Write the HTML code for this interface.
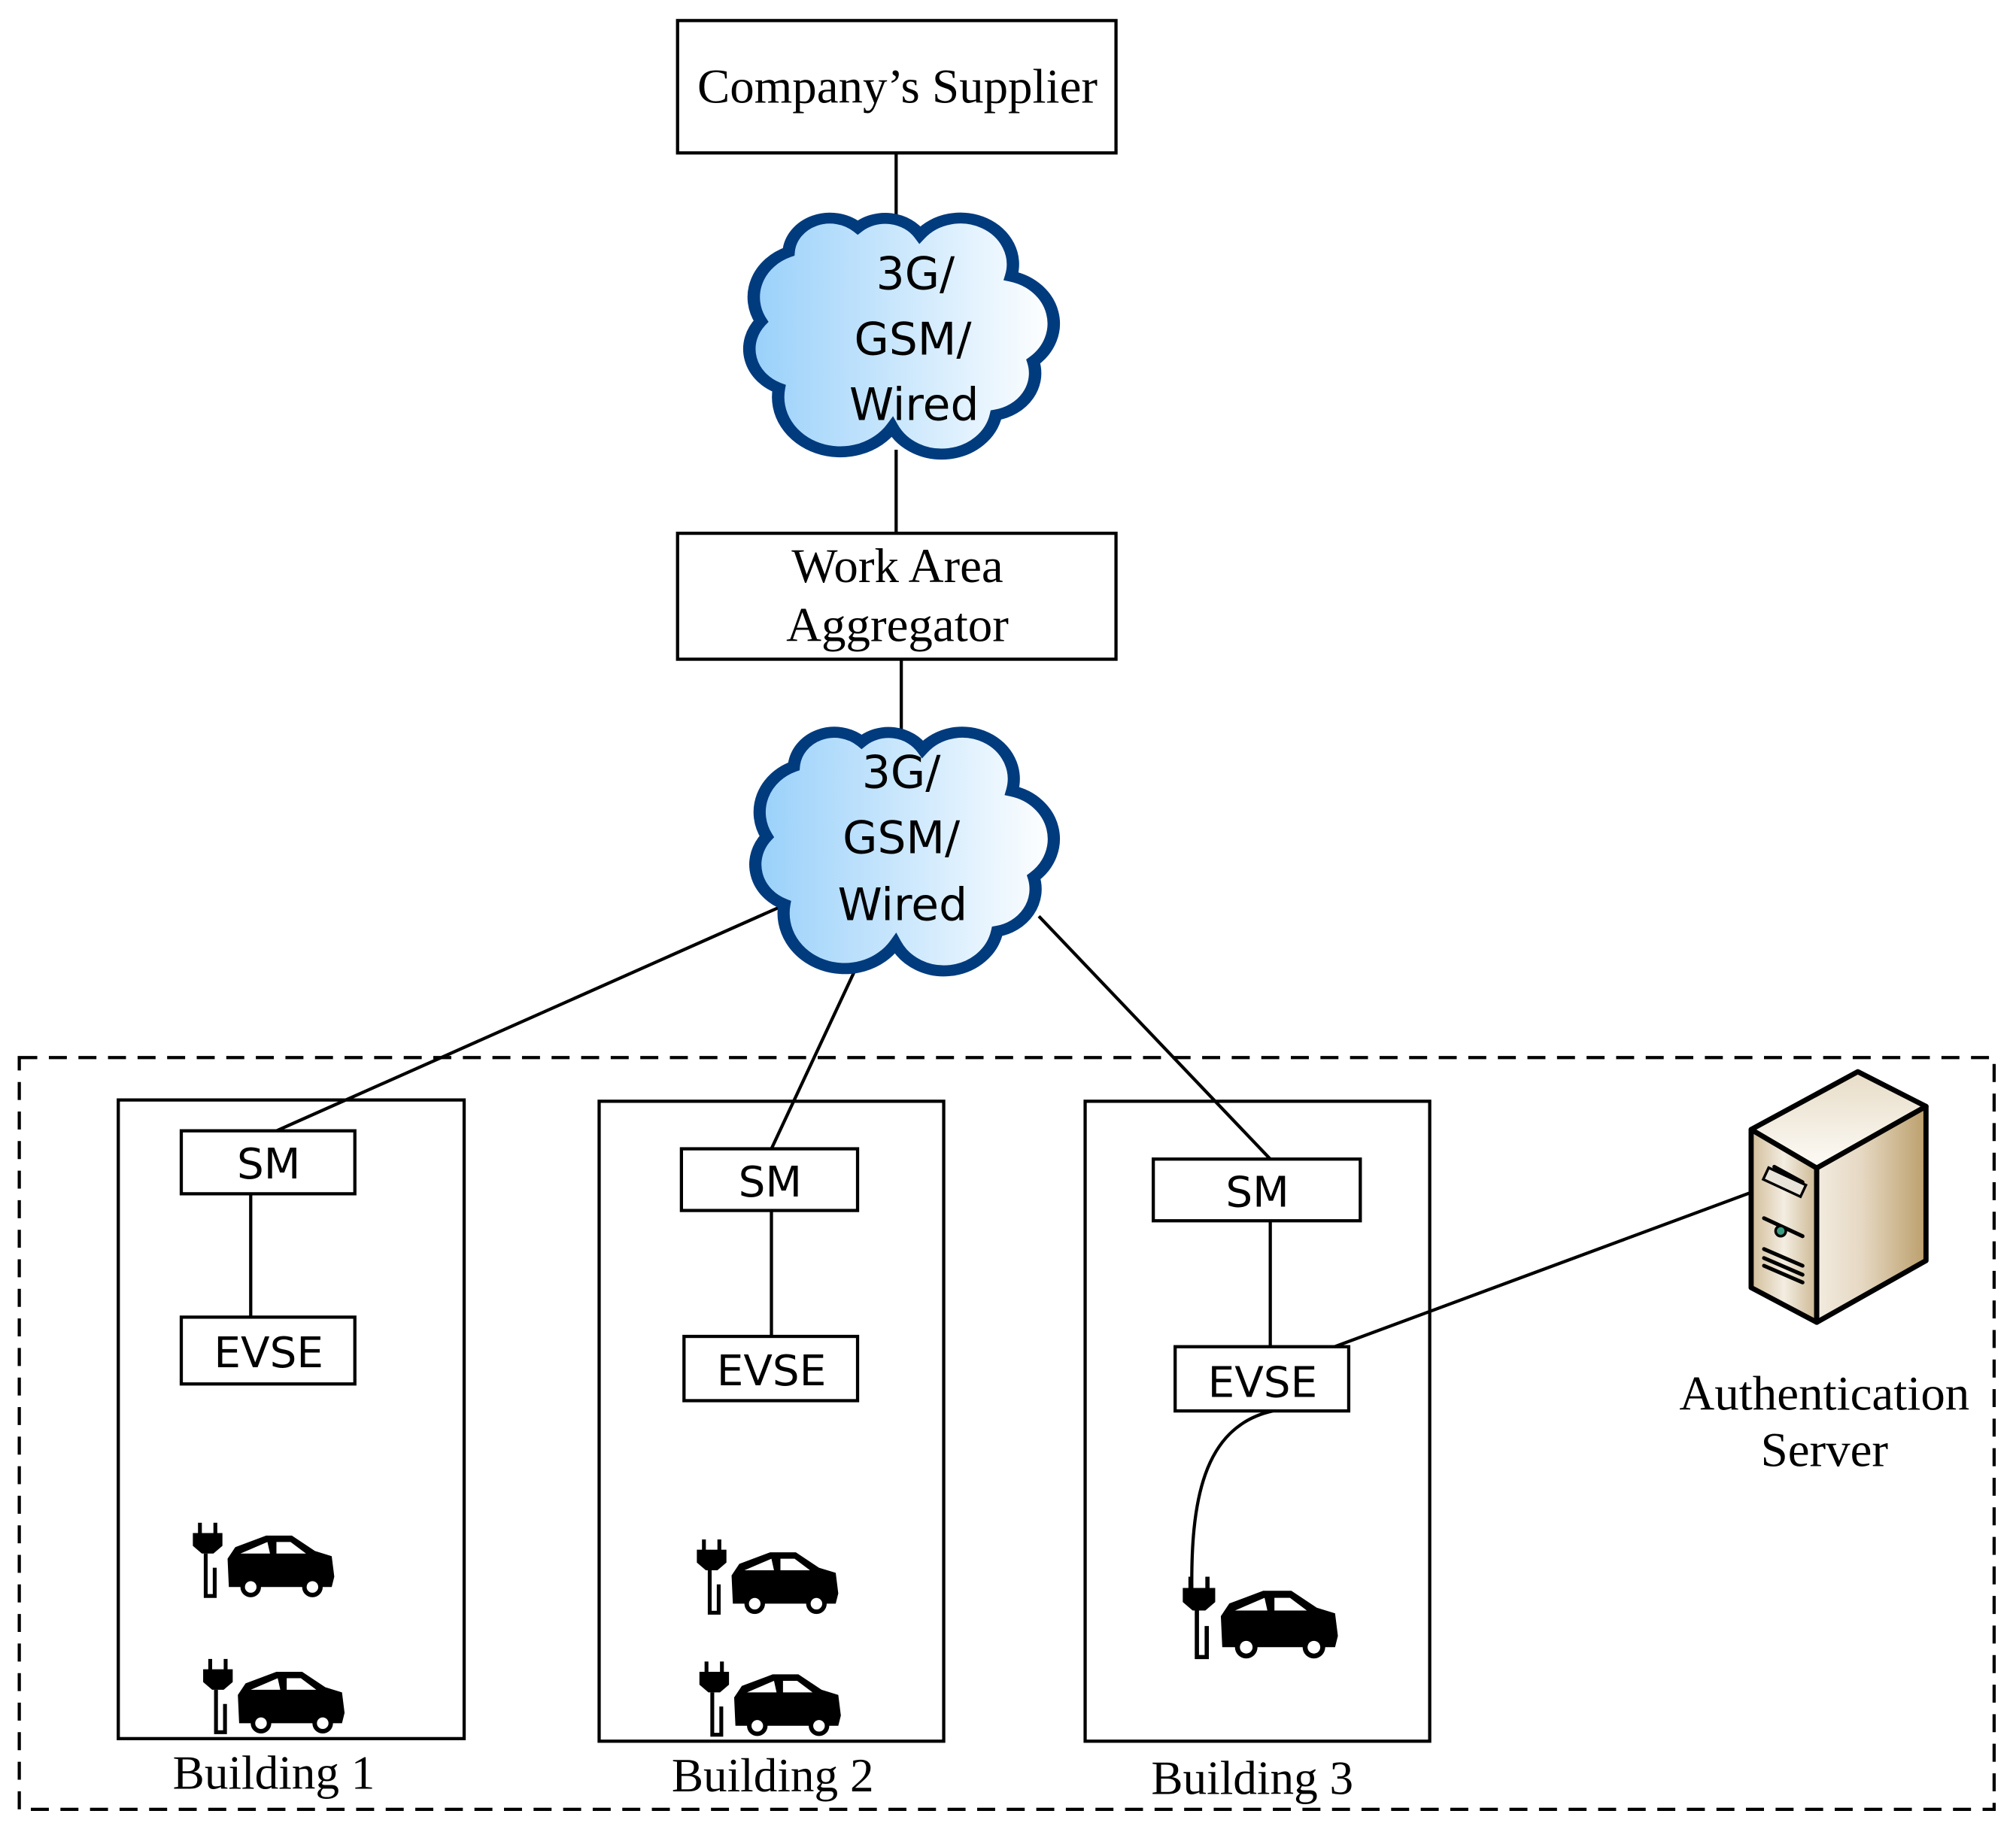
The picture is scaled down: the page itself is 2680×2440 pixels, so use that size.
<!DOCTYPE html>
<html><head><meta charset="utf-8"><style>html,body{margin:0;padding:0;background:#fff}svg{display:block}</style></head>
<body>
<svg width="2680" height="2440" viewBox="0 0 1568 1428" preserveAspectRatio="none" xmlns="http://www.w3.org/2000/svg">
<defs>
<linearGradient id="cg" x1="0" x2="1" y1="0" y2="0"><stop offset="0" stop-color="#98d0fa"/><stop offset="1" stop-color="#ffffff"/></linearGradient>
<linearGradient id="sf" x1="0" x2="1"><stop offset="0" stop-color="#d2bd98"/><stop offset="0.5" stop-color="#f3ede2"/><stop offset="1" stop-color="#cdb892"/></linearGradient>
<linearGradient id="sr" x1="0" x2="1"><stop offset="0" stop-color="#f2ebe0"/><stop offset="0.4" stop-color="#e6d9c4"/><stop offset="1" stop-color="#bc9f6c"/></linearGradient>
<linearGradient id="st" x1="0" x2="0" y1="0" y2="1"><stop offset="0" stop-color="#e7dcc6"/><stop offset="1" stop-color="#fdfbf7"/></linearGradient>
<symbol id="cloud" viewBox="0 0 240 190" overflow="visible" preserveAspectRatio="none">
<path d="M95,18 A30,30 0 0 1 140,24 A38,38 0 0 1 206,58 A40,40 0 0 1 222,128 A35,35 0 0 1 195,172 A40,40 0 0 1 120,182 A45,45 0 0 1 38,150 A35,35 0 0 1 25,95 A40,40 0 0 1 45,38 A30,30 0 0 1 95,18 Z" fill="url(#cg)" stroke="#003b7e" stroke-width="9"/>
</symbol>
<symbol id="car" viewBox="0 0 115 62" overflow="visible">
<rect x="4" y="0" width="3" height="9"/><rect x="16" y="0" width="3" height="9"/>
<path d="M0,8 H23 V18 L16,24 H7 L0,18 Z"/>
<path d="M10,24 V57 H17 V35" fill="none" stroke="#000" stroke-width="3"/>
<path d="M27,28 L33,19 L57,10 L77,10 L95,22 L108,26 L110,42 L108,50 L28,50 Z"/>
<path d="M37,24 L58,15 L60,24 Z M65,15 L76,15 L88,24 L65,24 Z" fill="#fff"/>
<circle cx="45" cy="50" r="8" fill="#000"/><circle cx="45" cy="50" r="4.5" fill="#fff"/>
<circle cx="93" cy="50" r="8" fill="#000"/><circle cx="93" cy="50" r="4.5" fill="#fff"/>
</symbol>
</defs>
<g fill="none" stroke="#000" stroke-width="2.5">
<rect x="527" y="16" width="341" height="103"/>
<line x1="697" y1="119" x2="697" y2="175"/>
<line x1="697" y1="350" x2="697" y2="415"/>
<rect x="527" y="415" width="341" height="98"/>
<line x1="701" y1="513" x2="701" y2="572"/>
<rect x="15" y="823" width="1536" height="585" stroke-dasharray="14,9"/>
<rect x="92" y="856" width="269" height="497"/>
<rect x="466" y="857" width="268" height="498"/>
<rect x="844" y="857" width="268" height="498"/>
<rect x="141" y="880" width="135" height="49" fill="#fff"/>
<rect x="141" y="1025" width="135" height="52"/>
<line x1="195" y1="929" x2="195" y2="1025"/>
<rect x="530" y="894" width="137" height="48"/>
<rect x="532" y="1040" width="135" height="50"/>
<line x1="600" y1="942" x2="600" y2="1040"/>
<rect x="897" y="902" width="161" height="48"/>
<rect x="914" y="1048" width="135" height="50"/>
<line x1="988" y1="950" x2="988" y2="1048"/>
<line x1="613" y1="703" x2="215" y2="880"/>
<line x1="672" y1="740" x2="600" y2="894"/>
<line x1="808" y1="713" x2="988" y2="902"/>
<line x1="1038" y1="1048" x2="1370" y2="925"/>
<path d="M990,1098 C935,1110 926,1170 927,1240"/>
</g>
<use href="#cloud" x="565" y="160" width="258" height="180"/>
<use href="#cloud" x="570" y="560" width="253" height="182"/>
<g>
<use href="#car" x="150" y="1185" width="115" height="62"/>
<use href="#car" x="158" y="1291" width="115" height="62"/>
<use href="#car" x="542" y="1198" width="115" height="62"/>
<use href="#car" x="544" y="1293" width="115" height="62"/>
<use href="#car" x="918" y="1227" width="130" height="68"/>
</g>
<g stroke="#000" stroke-width="4" stroke-linejoin="round">
<path d="M1362,879 L1445,834 L1498,861 L1413,909 Z" fill="url(#st)"/>
<path d="M1362,879 L1413,909 L1413,1029 L1362,1002 Z" fill="url(#sf)"/>
<path d="M1413,909 L1498,861 L1498,981 L1413,1029 Z" fill="url(#sr)"/>
</g>
<g stroke="#000" stroke-width="3" fill="none" stroke-linecap="round">
<path d="M1372,948 L1402,962"/><path d="M1372,972 L1402,985"/><path d="M1372,979 L1402,992"/><path d="M1372,985 L1402,998"/>
<path d="M1380,908 L1402,920"/>
</g>
<rect x="1372" y="915" width="32" height="10" fill="#e8e4da" stroke="#000" stroke-width="2" transform="rotate(25 1388 920)"/>
<circle cx="1385" cy="958" r="4" fill="#3a9c80" stroke="#000" stroke-width="2"/>
<g font-family="'Liberation Serif',serif" font-size="38" text-anchor="middle" fill="#000">
<text x="698" y="80">Company’s Supplier</text>
<text x="698" y="453">Work Area</text>
<text x="698" y="499">Aggregator</text>
<text x="1419" y="1097">Authentication</text>
<text x="1419" y="1141">Server</text>
<text x="213" y="1392" font-size="37">Building 1</text>
<text x="601" y="1394" font-size="37">Building 2</text>
<text x="974" y="1396" font-size="37">Building 3</text>
</g>
<g font-family="'DejaVu Sans','Liberation Sans',sans-serif" font-size="35" text-anchor="middle" fill="#000">
<text x="712" y="225">3G/</text>
<text x="710" y="276">GSM/</text>
<text x="711" y="327">Wired</text>
<text x="701" y="613">3G/</text>
<text x="701" y="664">GSM/</text>
<text x="702" y="716">Wired</text>
<text x="209" y="917" font-size="33">SM</text>
<text x="209" y="1064" font-size="33">EVSE</text>
<text x="599" y="931" font-size="33">SM</text>
<text x="600" y="1078" font-size="33">EVSE</text>
<text x="978" y="939" font-size="33">SM</text>
<text x="982" y="1087" font-size="33">EVSE</text>
</g>
</svg>
</body></html>
